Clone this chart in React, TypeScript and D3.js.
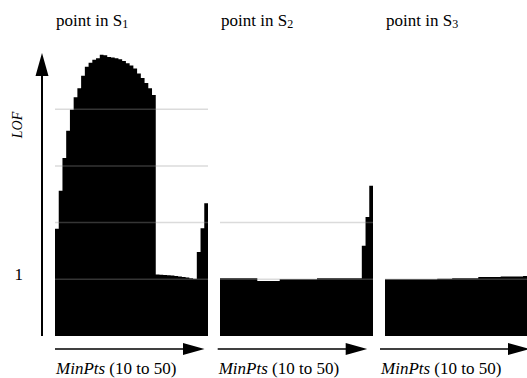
import React from "react";
import * as d3 from "d3";

const minPts = d3.range(10, 51); // 10..50

const panelTitles = ["S1", "S2", "S3"];

const lofS1 = [
  1.89, 2.56, 3.14, 3.62, 3.99, 4.21, 4.37, 4.59, 4.75, 4.82,
  4.87, 4.9, 4.96, 4.95, 4.92, 4.91, 4.9, 4.88, 4.85, 4.81,
  4.77, 4.72, 4.63, 4.55, 4.46, 4.37, 4.25, 1.085, 1.08, 1.075,
  1.07, 1.065, 1.06, 1.05, 1.04, 1.03, 1.02, 1.01, 1.48, 1.9,
  2.34,
];

const lofS2 = [
  1.02, 1.02, 1.02, 1.02, 1.02, 1.02, 1.02, 1.02, 1.02, 1.02,
  0.97, 0.97, 0.97, 0.97, 0.97, 0.97, 1.0, 1.0, 1.0, 1.0,
  1.0, 1.0, 1.0, 1.0, 1.0, 1.0, 1.02, 1.02, 1.02, 1.02,
  1.02, 1.02, 1.02, 1.02, 1.02, 1.02, 1.02, 1.02, 1.59, 2.1,
  2.65,
];

const lofS3 = [
  1.0, 1.0, 1.0, 1.0, 1.0, 1.0, 1.0, 1.0, 1.0, 1.0,
  1.0, 1.0, 1.0, 1.0, 1.01, 1.01, 1.01, 1.01, 1.02, 1.02,
  1.02, 1.02, 1.02, 1.02, 1.02, 1.04, 1.04, 1.04, 1.04, 1.04,
  1.04, 1.05, 1.05, 1.05, 1.05, 1.05, 1.05, 1.06, 1.06, 1.06,
  1.06,
];

const series = [lofS1, lofS2, lofS3];
const yTickLabels = ["1"];
const xLabelItalic = "MinPts";
const xLabelRest = " (10 to 50)";
const yLabel = "LOF";

const W = 527;
const H = 378;
const FONT = "'Liberation Serif', 'Times New Roman', serif";

export default function App() {
  const panelLeft = [55, 220, 385];
  const panelW = 153;
  const baseY = 336;
  const y = d3.scaleLinear().domain([0, 5]).range([baseY, baseY - 5 * 56.7]);

  const arrowLeft = [55, 217.7, 380];

  return (
    <svg
      width={W}
      height={H}
      style={{ position: "absolute", left: 0, top: 0, background: "#fff", fontFamily: FONT }}
    >
      <rect x={0} y={0} width={W} height={H} fill="#fff" />
      {series.map((vals, p) => {
        const x = d3
          .scaleLinear()
          .domain([10, 51])
          .range([panelLeft[p], panelLeft[p] + panelW]);
        const pts = minPts.map((k, i) => ({ k, v: vals[i] }));
        pts.push({ k: 51, v: vals[vals.length - 1] });
        const area = d3
          .area<{ k: number; v: number }>()
          .x((d) => x(d.k))
          .y0(y(0))
          .y1((d) => y(d.v))
          .curve(d3.curveStepAfter);
        const maxV = d3.max(vals) as number;
        const grid = d3.range(1, Math.floor(maxV) + 1);
        return (
          <g key={p}>
            <path d={area(pts) as string} fill="#000" />
            {grid.map((g) => (
              <line
                key={g}
                x1={x(10)}
                x2={x(51)}
                y1={y(g)}
                y2={y(g)}
                stroke="#999"
                strokeOpacity={0.35}
                strokeWidth={1.5}
              />
            ))}
            <text x={panelLeft[p] + 1} y={26} fontSize={17} fill="#000">
              {"point in " + panelTitles[p][0]}
              <tspan fontSize={12} dy={2}>
                {panelTitles[p].slice(1)}
              </tspan>
            </text>
            <line
              x1={arrowLeft[p]}
              x2={arrowLeft[p] + 135}
              y1={349}
              y2={349}
              stroke="#000"
              strokeWidth={1.5}
            />
            <polygon
              points={`${arrowLeft[p] + 128},343 ${arrowLeft[p] + 149.5},349 ${arrowLeft[p] + 128},355`}
              fill="#000"
            />
            <text x={arrowLeft[p] + 1} y={373.5} fontSize={17} fill="#000">
              <tspan fontStyle="italic">{xLabelItalic}</tspan>
              <tspan>{xLabelRest}</tspan>
            </text>
          </g>
        );
      })}
      {/* y axis */}
      <line x1={42} x2={42} y1={336} y2={70} stroke="#000" strokeWidth={2} />
      <polygon points="42,53 35.5,76 48.5,76" fill="#000" />
      <text
        transform="translate(22,125) rotate(-90)"
        textAnchor="middle"
        fontSize={14}
        fontStyle="italic"
        fill="#000"
      >
        {yLabel}
      </text>
      {yTickLabels.map((t, i) => (
        <text key={i} x={18.7} y={280} textAnchor="middle" fontSize={17} fill="#000">
          {t}
        </text>
      ))}
    </svg>
  );
}
